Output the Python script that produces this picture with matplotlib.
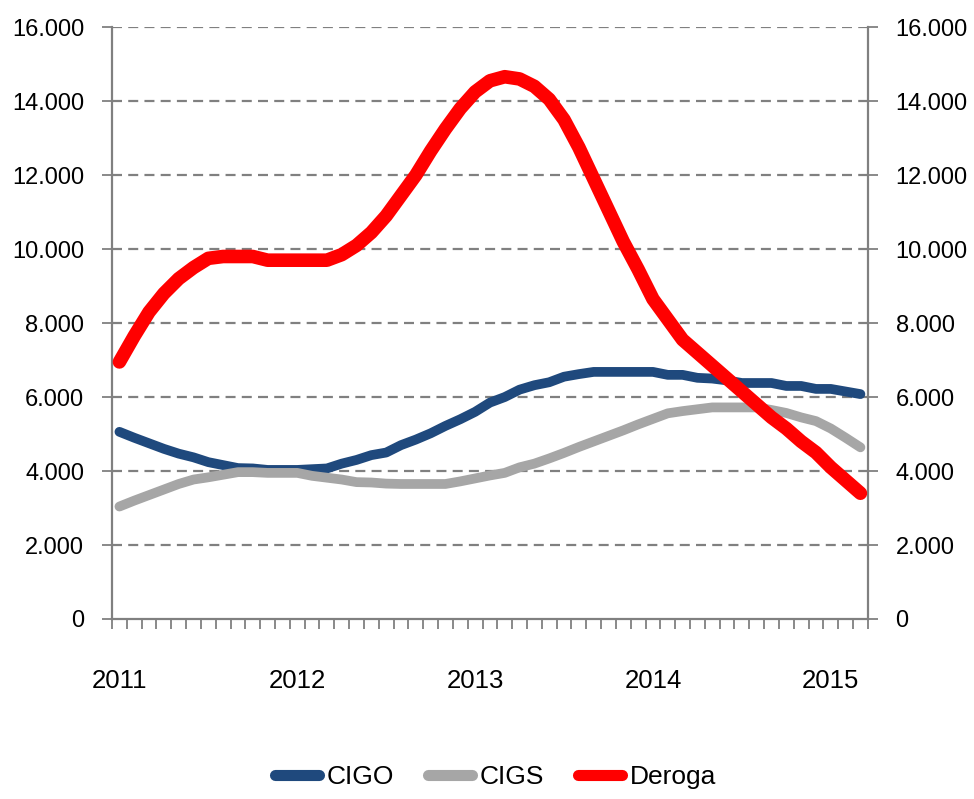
import numpy as np
import matplotlib
matplotlib.use("Agg")
import matplotlib.pyplot as plt
from matplotlib.ticker import FuncFormatter, FixedLocator

plt.rcParams['font.family'] = ['Liberation Sans', 'DejaVu Sans']

# monthly data, Jan 2011 - Mar 2015
years = ['2011', '2012', '2013', '2014', '2015']
cigo = [5060, 4900, 4750, 4600, 4470, 4370, 4240, 4160, 4080, 4070,
        4030, 4030, 4030, 4050, 4070, 4200, 4300, 4430, 4500, 4700,
        4850, 5020, 5220, 5400, 5600, 5850, 6000, 6200, 6320, 6400,
        6550, 6620, 6680, 6680, 6680, 6680, 6680, 6600, 6600, 6520,
        6500, 6450, 6380, 6380, 6380, 6300, 6300, 6220, 6220, 6150,
        6080]
cigs = [3040, 3200, 3350, 3500, 3650, 3770, 3830, 3900, 3970, 3970,
        3950, 3950, 3950, 3870, 3820, 3770, 3700, 3690, 3660, 3650,
        3650, 3650, 3650, 3720, 3800, 3880, 3950, 4100, 4200, 4340,
        4490, 4650, 4800, 4950, 5100, 5260, 5410, 5560, 5620, 5670,
        5720, 5720, 5720, 5720, 5650, 5570, 5450, 5350, 5150, 4900,
        4640]
deroga = [6950, 7650, 8300, 8800, 9200, 9500, 9750, 9800, 9800, 9800,
          9700, 9700, 9700, 9700, 9700, 9850, 10100, 10450, 10900, 11450,
          12000, 12650, 13250, 13800, 14250, 14550, 14660, 14600, 14400, 14050,
          13500, 12750, 11900, 11050, 10200, 9450, 8650, 8100, 7550, 7200,
          6850, 6500, 6150, 5800, 5450, 5150, 4800, 4500, 4100, 3750,
          3400]

x = np.arange(len(deroga))

fig = plt.figure(figsize=(9.74, 7.99), dpi=100)
ax = fig.add_axes([0.115, 0.2253, 0.776, 0.7407])

ax.plot(x, cigo, color='#1F497D', lw=7, solid_capstyle='round', solid_joinstyle='round', label='CIGO', zorder=3)
ax.plot(x, cigs, color='#A6A6A6', lw=7, solid_capstyle='round', solid_joinstyle='round', label='CIGS', zorder=4)
ax.plot(x, deroga, color='#FF0000', lw=9.8, solid_capstyle='round', solid_joinstyle='round', label='Deroga', zorder=5)

ax.set_xlim(-0.5, len(x) - 0.5)
ax.set_ylim(0, 16000)

fmt = FuncFormatter(lambda v, p: f"{v:,.0f}".replace(",", "."))
yt = np.arange(0, 16001, 2000)
ax.set_yticks(yt)
ax.yaxis.set_major_formatter(fmt)
for v in yt[1:]:
    ax.axhline(v, color='#808080', lw=1.6, ls=(0, (4.5, 2.8)), zorder=1)

ax.tick_params(axis='y', which='major', direction='out', length=7, width=1.3,
               color='#808080', labelsize=17, pad=13, right=True, labelright=True)

# year labels at january, month ticks between categories
ax.xaxis.set_major_locator(FixedLocator([0, 12, 24, 36, 48]))
ax.set_xticklabels(years)
ax.xaxis.set_minor_locator(FixedLocator(np.arange(-0.5, len(x), 1)))
ax.tick_params(axis='x', which='major', length=0, labelsize=18.5, pad=36)
ax.tick_params(axis='x', which='minor', direction='out', length=7, width=1.3, color='#808080')

for side in ['left', 'right', 'bottom']:
    ax.spines[side].set_color('#808080')
    ax.spines[side].set_linewidth(1.6)
ax.spines['top'].set_visible(False)

leg = fig.legend(loc='center', bbox_to_anchor=(0.509, 0.027), ncol=3, frameon=False,
                 fontsize=19, handlelength=1.65, handletextpad=0.3, columnspacing=1.3)
for h in leg.get_lines():
    h.set_linewidth(8)

fig.savefig('out.png', dpi=100)
